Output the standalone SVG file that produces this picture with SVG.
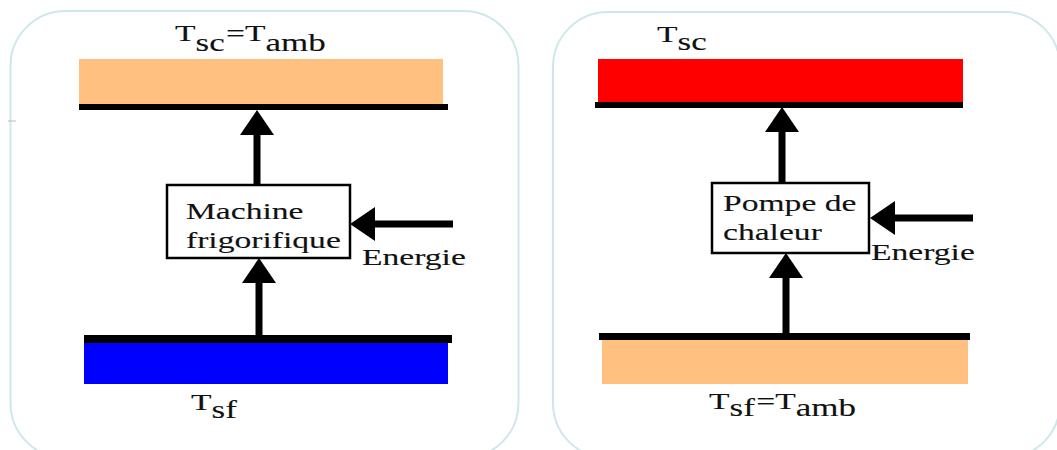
<svg xmlns="http://www.w3.org/2000/svg" width="1057" height="450" viewBox="0 0 1057 450">
<style>
.panel{fill:#fff;stroke:#cfe7eb;stroke-width:2}
.bar{fill:#000}
.box{fill:#fff;stroke:#000;stroke-width:2.5}
.t{font-family:"Liberation Serif","Times New Roman",serif;font-size:24px;fill:#111;stroke:#111;stroke-width:0.12}
.s{font-size:25px}
.c{stroke:#000;stroke-width:7;fill:none}
</style>
<defs>
<marker id="ah" markerUnits="userSpaceOnUse" markerWidth="26" markerHeight="36" viewBox="0 0 26 34" refX="5" refY="17" orient="auto">
<path d="M0,0 L25,17 L0,34 z" fill="#000"/>
</marker>
</defs>
<rect class="panel" x="10.5" y="11" width="508" height="447" rx="55"/>
<rect class="panel" x="553" y="12" width="507" height="446" rx="55"/>
<line x1="8" y1="121" x2="16" y2="121" stroke="#bbb" stroke-width="1"/>
<g id="left-hot">
<rect x="79" y="59" width="364" height="46" fill="#FFC080"/>
<rect class="bar" x="79" y="104" width="369" height="6"/>
<text class="t" transform="translate(175,41) scale(1.4,1)">T<tspan class="s" dy="10">sc</tspan><tspan dx="1" dy="-10">=</tspan>T<tspan class="s" dy="10">amb</tspan></text>
</g>
<g id="left-machine">
<rect class="box" x="167" y="185" width="183" height="73"/>
<text class="t" transform="translate(186,219) scale(1.4,1)">Machine</text>
<text class="t" transform="translate(186,248) scale(1.4,1)">frigorifique</text>
</g>
<g id="left-energy">
<text class="t" transform="translate(362,265) scale(1.4,1)">Energie</text>
</g>
<g id="left-cold">
<rect class="bar" x="84" y="335" width="368" height="8"/>
<rect x="84" y="343" width="364" height="41" fill="#0000FF"/>
<text class="t" transform="translate(191,410) scale(1.4,1)">T<tspan class="s" dy="8">sf</tspan></text>
</g>
<g id="right-hot">
<rect x="598" y="59" width="365" height="44" fill="#FF0000"/>
<rect class="bar" x="595" y="102" width="368" height="6"/>
<text class="t" transform="translate(657,42) scale(1.4,1)">T<tspan class="s" dy="8">sc</tspan></text>
</g>
<g id="right-pump">
<rect class="box" x="712" y="183" width="157" height="70"/>
<text class="t" transform="translate(723,211) scale(1.4,1)">Pompe de</text>
<text class="t" transform="translate(723,240) scale(1.4,1)">chaleur</text>
</g>
<g id="right-energy">
<text class="t" transform="translate(871,260) scale(1.4,1)">Energie</text>
</g>
<g id="right-cold">
<rect class="bar" x="599" y="333" width="371" height="7"/>
<rect x="602" y="340" width="366" height="44" fill="#FFC080"/>
<text class="t" transform="translate(709,409) scale(1.4,1)">T<tspan class="s" dy="7">sf</tspan><tspan dx="1" dy="-7">=</tspan>T<tspan class="s" dy="7">amb</tspan></text>
</g>
<g id="connectors">
<line class="c" x1="257" y1="185" x2="257" y2="130" marker-end="url(#ah)"/>
<line class="c" x1="259" y1="335" x2="259" y2="278" marker-end="url(#ah)"/>
<line class="c" x1="453" y1="224" x2="370" y2="224" marker-end="url(#ah)"/>
<line class="c" x1="782" y1="183" x2="782" y2="127" marker-end="url(#ah)"/>
<line class="c" x1="786" y1="333" x2="786" y2="273" marker-end="url(#ah)"/>
<line class="c" x1="973" y1="218" x2="890" y2="218" marker-end="url(#ah)"/>
</g>
</svg>
